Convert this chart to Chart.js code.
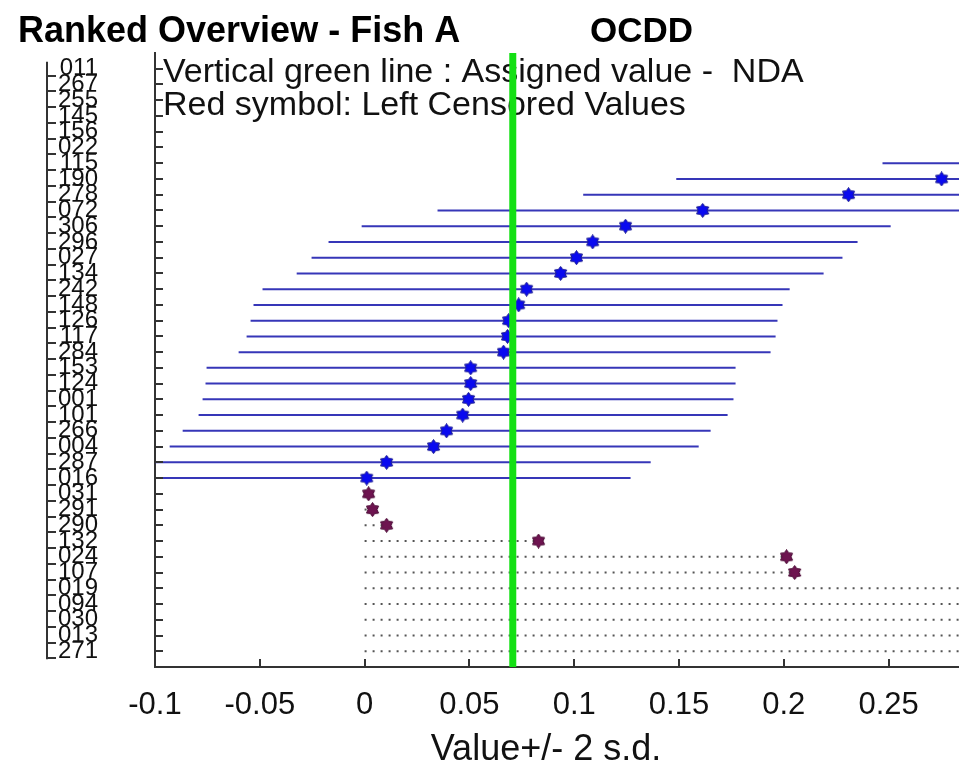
<!DOCTYPE html>
<html>
<head>
<meta charset="utf-8">
<title>Ranked Overview - Fish A OCDD</title>
<script src="https://cdn.jsdelivr.net/npm/chart.js@4.4.1/dist/chart.umd.min.js"></script>
<style>
  html, body { margin: 0; padding: 0; background: #fff; }
  #wrap { width: 959px; height: 772px; }
</style>
</head>
<body>
<div id="wrap"><canvas id="chart" width="959" height="772"></canvas></div>
<script>
// ==================== DATA ====================
const rowLabels = ['011','267','255','145','156','022','115','190','278','072',
                   '306','296','027','134','242','148','126','117','284','153',
                   '124','001','101','266','004','287','016','031','291','290',
                   '132','024','107','019','094','030','013','271'];

// reported results (blue), null = no reported value in view
const reportedValue = [null, null, null, null, null, null, 0.374, 0.2753, 0.2309, 0.1613,
                       0.1245, 0.1088, 0.1011, 0.0935, 0.0773, 0.0735, 0.0687, 0.0682, 0.0663, 0.0506,
                       0.0506, 0.0496, 0.0468, 0.0391, 0.0329, 0.0105, 0.0010, null, null, null,
                       null, null, null, null, null, null, null, null];
// value - 2 s.d. / value + 2 s.d.
const barLow  = [null, null, null, null, null, null, 0.2471, 0.1487, 0.1043, 0.0348,
                 -0.0014, -0.0172, -0.0253, -0.0324, -0.0487, -0.0530, -0.0544, -0.0563, -0.0601, -0.0754,
                 -0.0759, -0.0773, -0.0792, -0.0868, -0.0930, -0.1160, -0.1256, null, null, null,
                 null, null, null, null, null, null, null, null];
const barHigh = [null, null, null, null, null, null, 0.500, 0.402, 0.3575, 0.288,
                 0.251, 0.2352, 0.228, 0.219, 0.2028, 0.1994, 0.1970, 0.1961, 0.1937, 0.177,
                 0.177, 0.176, 0.1732, 0.1651, 0.1594, 0.1365, 0.1269, null, null, null,
                 null, null, null, null, null, null, null, null];
// left censored results (red), "< value"
const censoredValue = [null, null, null, null, null, null, null, null, null, null,
                       null, null, null, null, null, null, null, null, null, null,
                       null, null, null, null, null, null, null, 0.0019, 0.0038, 0.0105,
                       0.0830, 0.2013, 0.2052, 0.31, 0.33, 0.36, 0.40, 0.50];

const assignedValue = 0.0707;

const xTicks = [-0.1, -0.05, 0, 0.05, 0.1, 0.15, 0.2, 0.25];
const xTickLabels = ['-0.1', '-0.05', '0', '0.05', '0.1', '0.15', '0.2', '0.25'];

const FONT = "'Liberation Sans', Arial, sans-serif";

// ==================== MARKERS ====================
function hexagram(fill, edge, size) {
    const c = document.createElement('canvas');
    c.width = c.height = size;
    const g = c.getContext('2d');
    const cx = size / 2, cy = size / 2, r = size / 2 - 0.5;
    g.beginPath();
    for (let k = 0; k < 12; k++) {
        const a = -Math.PI / 2 + k * Math.PI / 6;
        const rr = k % 2 === 0 ? r : r * 0.64;
        const px = cx + rr * Math.cos(a), py = cy + rr * Math.sin(a);
        k === 0 ? g.moveTo(px, py) : g.lineTo(px, py);
    }
    g.closePath();
    g.fillStyle = fill;
    g.fill();
    g.strokeStyle = edge;
    g.lineWidth = 1;
    g.stroke();
    return c;
}
const blueStar = hexagram('#0a0af0', '#1a1a90', 15);
const redStar = hexagram('#6e1450', '#4a0a35', 15);

// ==================== DATASETS ====================
const datasets = [];

datasets.push({
    label: 'Assigned value',
    data: [{ x: assignedValue, y: -1 }, { x: assignedValue, y: 38 }],
    showLine: true, borderColor: '#14e014', borderWidth: 7, pointRadius: 0, order: 0
});

datasets.push({
    label: 'Reported',
    data: reportedValue.map((v, i) => v == null ? null : { x: v, y: i }).filter(Boolean),
    pointStyle: blueStar, pointRadius: 7, showLine: false, order: 1
});

datasets.push({
    label: 'Left censored',
    data: censoredValue.map((v, i) => v == null ? null : { x: v, y: i }).filter(Boolean),
    pointStyle: redStar, pointRadius: 7, showLine: false, order: 1
});

barLow.forEach((lo, i) => {
    if (lo == null) return;
    datasets.push({
        data: [{ x: lo, y: i }, { x: barHigh[i], y: i }],
        showLine: true, borderColor: '#3636b8', borderWidth: 2, pointRadius: 0, order: 2
    });
});

censoredValue.forEach((v, i) => {
    if (v == null) return;
    datasets.push({
        data: [{ x: 0, y: i }, { x: v, y: i }],
        showLine: true, borderColor: '#555', borderWidth: 2, borderDash: [2, 6],
        pointRadius: 0, order: 2
    });
});

// ==================== DECORATION ====================
const decor = {
    id: 'decor',
    beforeDatasetsDraw(chart) {
        const ctx = chart.ctx;
        ctx.save();
        ctx.fillStyle = '#111';
        ctx.font = `34px ${FONT}`;
        ctx.textBaseline = 'alphabetic';
        ctx.fillText('Vertical green line : Assigned value -  NDA', 163, 82);
        ctx.fillText('Red symbol: Left Censored Values', 163, 115);
        ctx.restore();
    },
    afterDraw(chart) {
        const ctx = chart.ctx;
        const area = chart.chartArea;
        const ys = chart.scales.y, xs = chart.scales.x;
        ctx.save();
        // title
        ctx.fillStyle = '#000';
        ctx.font = `bold 36px ${FONT}`;
        ctx.fillText('Ranked Overview - Fish A', 18, 42);
        ctx.font = `bold 35px ${FONT}`;
        ctx.fillText('OCDD', 590, 42);
        // x axis title
        ctx.fillStyle = '#111';
        ctx.font = `36px ${FONT}`;
        ctx.textAlign = 'center';
        ctx.textBaseline = 'middle';
        ctx.fillText('Value+/- 2 s.d.', 546, 750);

        ctx.strokeStyle = '#333';
        ctx.lineWidth = 2;
        // inward ticks on the left frame
        rowLabels.forEach((_, i) => {
            const y = Math.round(ys.getPixelForValue(i));
            ctx.beginPath();
            ctx.moveTo(area.left, y);
            ctx.lineTo(area.left + 8, y);
            ctx.stroke();
        });
        // inward ticks on the bottom axis
        xTicks.forEach(v => {
            const x = Math.round(xs.getPixelForValue(v));
            ctx.beginPath();
            ctx.moveTo(x, area.bottom);
            ctx.lineTo(x, area.bottom - 8);
            ctx.stroke();
        });
        // label rail
        const y0 = ys.getPixelForValue(0), y1 = ys.getPixelForValue(rowLabels.length - 1);
        ctx.beginPath();
        ctx.moveTo(47, y0 - 7);
        ctx.lineTo(47, y1 + 8);
        ctx.stroke();
        rowLabels.forEach((_, i) => {
            const y = Math.round(ys.getPixelForValue(i) + 7);
            ctx.beginPath();
            ctx.moveTo(47, y);
            ctx.lineTo(56, y);
            ctx.stroke();
        });
        ctx.restore();
    }
};

// ==================== CHART ====================
new Chart(document.getElementById('chart'), {
    type: 'scatter',
    data: { datasets },
    options: {
        responsive: false,
        animation: false,
        events: [],
        layout: { autoPadding: false, padding: { top: 53, left: 0, right: 0, bottom: 0 } },
        plugins: { legend: { display: false }, tooltip: { enabled: false } },
        scales: {
            x: {
                type: 'linear',
                min: -0.1,
                max: 0.2836,
                grid: { display: false, drawTicks: false },
                border: { display: true, color: '#333', width: 2 },
                afterBuildTicks: s => { s.ticks = xTicks.map(v => ({ value: v })); },
                afterFit: s => { s.height = 105; s.paddingLeft = 0; s.paddingRight = 0; },
                ticks: {
                    padding: 20,
                    color: '#111',
                    font: { family: FONT, size: 31 },
                    callback: (v, i) => xTickLabels[i]
                }
            },
            y: {
                type: 'linear',
                min: -1,
                max: 38,
                reverse: true,
                grid: { display: false, drawTicks: false },
                border: { display: true, color: '#333', width: 2 },
                afterBuildTicks: s => { s.ticks = rowLabels.map((_, i) => ({ value: i })); },
                afterFit: s => { s.width = 155; s.paddingTop = 0; s.paddingBottom = 0; },
                ticks: {
                    autoSkip: false,
                    padding: 57,
                    color: '#111',
                    font: { family: FONT, size: 24 },
                    callback: (v, i) => rowLabels[i]
                }
            }
        }
    },
    plugins: [decor]
});
</script>
</body>
</html>
